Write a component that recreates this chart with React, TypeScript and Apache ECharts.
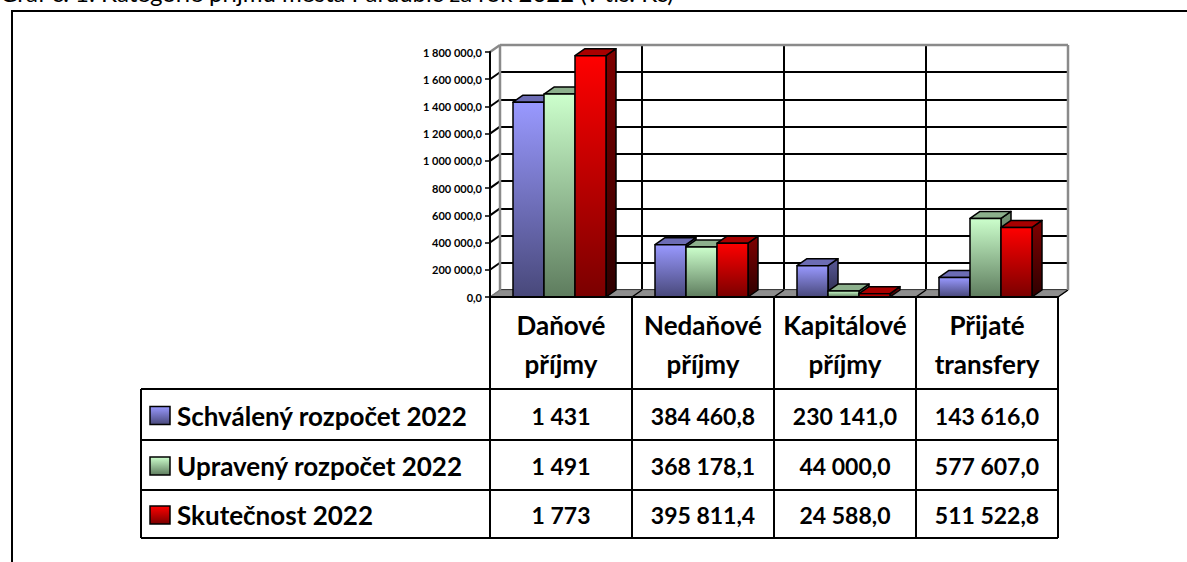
import React, { useEffect, useRef } from 'react';
import * as echarts from 'echarts';

const TITLE = 'Graf č. 1: Kategorie příjmů města Pardubic za rok 2022 (v tis. Kč)';
const CATEGORIES = ['Daňové příjmy', 'Nedaňové příjmy', 'Kapitálové příjmy', 'Přijaté transfery'];
const SERIES_NAMES = ['Schválený rozpočet 2022', 'Upravený rozpočet 2022', 'Skutečnost 2022'];
const SCHVALENY = [1431000, 384460.8, 230141.0, 143616.0];
const UPRAVENY = [1491000, 368178.1, 44000.0, 577607.0];
const SKUTECNOST = [1773000, 395811.4, 24588.0, 511522.8];
const SCHVALENY_TEXT = ['1 431', '384 460,8', '230 141,0', '143 616,0'];
const UPRAVENY_TEXT = ['1 491', '368 178,1', '44 000,0', '577 607,0'];
const SKUTECNOST_TEXT = ['1 773', '395 811,4', '24 588,0', '511 522,8'];
const Y_MIN = 0;
const Y_MAX = 1800000;
const Y_STEP = 200000;

const SERIES_VALUES = [SCHVALENY, UPRAVENY, SKUTECNOST];
const SERIES_TEXT = [SCHVALENY_TEXT, UPRAVENY_TEXT, SKUTECNOST_TEXT];

const PALETTE = [
  { front: ['#9999FF', '#48487A'], top: '#6C6CB4', side: ['#5A5A9A', '#2A2A48'] },
  { front: ['#CCFFCC', '#5E7C5E'], top: '#8CB08C', side: ['#769676', '#3A4A3A'] },
  { front: ['#FF0000', '#7A0000'], top: '#A80000', side: ['#800000', '#2E0000'] },
];

const FONT = 'Lato, "Open Sans", sans-serif';
const GRID = { left: 490, top: 52, width: 568, height: 245 };
const DX = 10;
const DY = -7;
const BAR_OFFSET = 23 / 142;
const BAR_W = 31 / 142;

const TABLE = {
  legendLeft: 141,
  rows: [389, 440, 490, 538],
};

function fmtAxis(v: number) {
  const s = String(Math.round(v)).replace(/\B(?=(\d{3})+(?!\d))/g, ' ');
  return s + ',0';
}

function vgrad(c0: string, c1: string) {
  return new echarts.graphic.LinearGradient(0, 0, 0, 1, [
    { offset: 0, color: c0 },
    { offset: 1, color: c1 },
  ]);
}

function makeBarRender(k: number) {
  return (params: any, api: any) => {
    const i = api.value(0);
    const v = api.value(1);
    const base = api.coord([i, 0]);
    const top = api.coord([i, v]);
    const band = api.size([1, 0])[0];
    const bw = band * BAR_W;
    const x0 = base[0] - band / 2 + band * BAR_OFFSET + k * bw;
    const x1 = x0 + bw;
    const yT = top[1];
    const yB = base[1];
    const pal = PALETTE[k];
    const stroke = { stroke: '#000', lineWidth: 1.5, lineJoin: 'round' };
    return {
      type: 'group',
      children: [
        {
          type: 'polygon',
          shape: { points: [[x1, yT], [x1 + DX, yT + DY], [x1 + DX, yB + DY], [x1, yB]] },
          style: { fill: vgrad(pal.side[0], pal.side[1]), ...stroke },
        },
        {
          type: 'polygon',
          shape: { points: [[x0, yT], [x1, yT], [x1 + DX, yT + DY], [x0 + DX, yT + DY]] },
          style: { fill: pal.top, ...stroke },
        },
        {
          type: 'rect',
          shape: { x: x0, y: yT, width: bw, height: Math.max(yB - yT, 0.5) },
          style: { fill: vgrad(pal.front[0], pal.front[1]), ...stroke },
        },
      ],
    };
  };
}

function renderWalls(params: any, api: any) {
  const band = api.size([1, 0])[0];
  const c0 = api.coord([0, Y_MIN]);
  const L = c0[0] - band / 2;
  const B = c0[1];
  const R = L + band * CATEGORIES.length;
  const T = api.coord([0, Y_MAX])[1];
  const children: any[] = [];
  children.push({
    type: 'polygon',
    shape: { points: [[L, B], [R, B], [R + DX, B + DY], [L + DX, B + DY]] },
    style: { fill: '#8E8E8E', stroke: '#7A7A7A', lineWidth: 1 },
  });
  for (let v = Y_MIN + Y_STEP; v < Y_MAX; v += Y_STEP) {
    const y = api.coord([0, v])[1];
    children.push({
      type: 'line',
      shape: { x1: L, y1: y, x2: L + DX, y2: y + DY },
      style: { stroke: '#000', lineWidth: 2 },
    });
  }
  for (let i = 1; i <= CATEGORIES.length; i++) {
    const x = L + band * i;
    children.push({
      type: 'line',
      shape: { x1: x, y1: B, x2: x + DX, y2: B + DY },
      style: { stroke: '#000', lineWidth: 1.5 },
    });
  }
  const gray = { stroke: '#8A8A8A', lineWidth: 2.5 };
  children.push({ type: 'line', shape: { x1: L, y1: T, x2: L + DX, y2: T + DY }, style: gray });
  children.push({ type: 'line', shape: { x1: L + DX, y1: T + DY, x2: R + DX, y2: T + DY }, style: gray });
  children.push({ type: 'line', shape: { x1: L + DX, y1: T + DY, x2: L + DX, y2: B + DY }, style: gray });
  children.push({ type: 'line', shape: { x1: R + DX, y1: T + DY, x2: R + DX, y2: B + DY }, style: gray });
  children.push({ type: 'line', shape: { x1: L, y1: B, x2: L + DX, y2: B + DY }, style: { stroke: '#7A7A7A', lineWidth: 1.5 } });
  return { type: 'group', children };
}

function buildTable() {
  const els: any[] = [];
  const colW = GRID.width / CATEGORIES.length;
  const bottom = TABLE.rows[TABLE.rows.length - 1];
  const line = { stroke: '#000', lineWidth: 2 };
  for (let i = 0; i <= CATEGORIES.length; i++) {
    const x = GRID.left + i * colW;
    els.push({ type: 'line', shape: { x1: x, y1: GRID.top + GRID.height, x2: x, y2: bottom }, style: line, z: 20 });
  }
  els.push({ type: 'line', shape: { x1: TABLE.legendLeft, y1: TABLE.rows[0], x2: TABLE.legendLeft, y2: bottom }, style: line, z: 20 });
  TABLE.rows.forEach((y) => {
    els.push({ type: 'line', shape: { x1: TABLE.legendLeft, y1: y, x2: GRID.left + GRID.width, y2: y }, style: line, z: 20 });
  });
  const headTop = GRID.top + GRID.height;
  CATEGORIES.forEach((c, i) => {
    const cx = GRID.left + (i + 0.5) * colW;
    const parts = c.split(' ');
    parts.forEach((p, j) => {
      els.push({
        type: 'text',
        x: cx,
        y: headTop + 28 + j * 39,
        style: { text: p, fill: '#000', font: `bold 26px ${FONT}`, align: 'center', verticalAlign: 'middle' },
        z: 20,
      });
    });
  });
  SERIES_NAMES.forEach((name, r) => {
    const y0 = TABLE.rows[r];
    const y1 = TABLE.rows[r + 1];
    const cy = (y0 + y1) / 2 + 1;
    const pal = PALETTE[r];
    els.push({
      type: 'rect',
      shape: { x: 150, y: cy - 9, width: 20, height: 18 },
      style: { fill: vgrad(pal.front[0], pal.front[1]), stroke: '#000', lineWidth: 1.5 },
      z: 20,
    });
    els.push({
      type: 'text',
      x: 177,
      y: cy,
      style: { text: name, fill: '#000', font: `bold 26px ${FONT}`, align: 'left', verticalAlign: 'middle' },
      z: 20,
    });
    SERIES_TEXT[r].forEach((t, i) => {
      els.push({
        type: 'text',
        x: GRID.left + (i + 0.5) * colW,
        y: cy,
        style: { text: t, fill: '#000', font: `bold 23px ${FONT}`, align: 'center', verticalAlign: 'middle' },
        z: 20,
      });
    });
  });
  return els;
}

export default function App() {
  const ref = useRef<HTMLDivElement>(null);
  useEffect(() => {
    if (!ref.current) return;
    const chart = echarts.init(ref.current, undefined, { renderer: 'svg' });
    const axisCommon = { min: Y_MIN, max: Y_MAX, interval: Y_STEP };
    chart.setOption({
      animation: false,
      backgroundColor: '#fff',
      grid: [
        { left: GRID.left, top: GRID.top, width: GRID.width, height: GRID.height },
        { left: GRID.left + DX, top: GRID.top + DY, width: GRID.width, height: GRID.height },
      ],
      xAxis: [
        {
          type: 'category',
          gridIndex: 0,
          data: CATEGORIES,
          boundaryGap: true,
          axisLine: { show: true, lineStyle: { color: '#000', width: 2 } },
          axisTick: { show: false },
          axisLabel: { show: false },
          splitLine: { show: false },
          z: 10,
        },
        {
          type: 'category',
          gridIndex: 1,
          data: CATEGORIES,
          boundaryGap: true,
          axisLine: { show: false },
          axisTick: { show: false },
          axisLabel: { show: false },
          splitLine: { show: true, interval: 0, lineStyle: { color: '#000', width: 2 } },
          z: 0,
        },
      ],
      yAxis: [
        {
          type: 'value',
          gridIndex: 0,
          ...axisCommon,
          axisLine: { show: true, lineStyle: { color: '#000', width: 2 } },
          axisTick: { show: true, length: 5, lineStyle: { color: '#000', width: 1.5 } },
          axisLabel: {
            margin: 8,
            color: '#000',
            fontFamily: FONT,
            fontWeight: 'bold',
            fontSize: 11,
            formatter: (v: number) => fmtAxis(v),
          },
          splitLine: { show: false },
          z: 10,
        },
        {
          type: 'value',
          gridIndex: 1,
          ...axisCommon,
          axisLine: { show: false },
          axisTick: { show: false },
          axisLabel: { show: false },
          splitLine: { show: true, lineStyle: { color: '#000', width: 2 } },
          z: 0,
        },
      ],
      series: [
        {
          type: 'custom',
          name: 'walls',
          xAxisIndex: 0,
          yAxisIndex: 0,
          z: 1,
          silent: true,
          data: [[0, 0]],
          renderItem: renderWalls,
        },
        ...SERIES_NAMES.map((name, k) => ({
          type: 'custom',
          name,
          xAxisIndex: 0,
          yAxisIndex: 0,
          z: 3 + k,
          data: SERIES_VALUES[k].map((v, i) => [i, v]),
          encode: { x: 0, y: 1 },
          renderItem: makeBarRender(k),
        })),
      ],
      graphic: [
        {
          type: 'rect',
          shape: { x: 12, y: 11, width: 1300, height: 700 },
          style: { fill: 'none', stroke: '#000', lineWidth: 2 },
          z: 0,
          silent: true,
        },
        {
          type: 'text',
          x: 0,
          y: 4,
          style: { text: TITLE, fill: '#000', font: `24px ${FONT}`, align: 'left', verticalAlign: 'bottom' },
          z: 0,
          silent: true,
        },
        ...buildTable(),
      ],
    });
    return () => chart.dispose();
  }, []);
  return <div ref={ref} style={{ position: 'fixed', left: 0, top: 0, width: 1187, height: 562 }} />;
}
